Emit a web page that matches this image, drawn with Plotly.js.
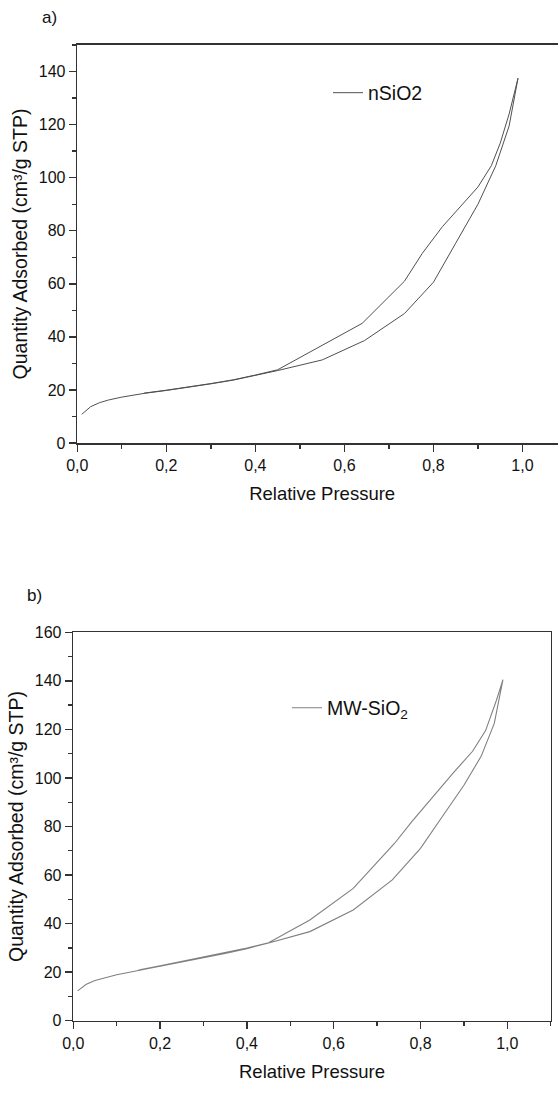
<!DOCTYPE html>
<html>
<head>
<meta charset="utf-8">
<script src="https://cdn.plot.ly/plotly-3.0.1.min.js"></script>
<style>
html, body { margin: 0; padding: 0; overflow: hidden; background: #fff; }
#chart { width: 570px; height: 1106px; }
</style>
</head>
<body>
<div id="chart"></div>
<script>
// ---- Data: (a) nSiO2 isotherm ----
const adsP_a = [0.01, 0.03, 0.05, 0.07, 0.10, 0.15, 0.20, 0.25, 0.30, 0.35, 0.40, 0.45, 0.55, 0.645, 0.735, 0.80, 0.85, 0.90, 0.94, 0.97, 0.99];
const adsQ_a = [10.8, 13.7, 15.2, 16.2, 17.3, 18.7, 19.8, 21.0, 22.3, 23.7, 25.4, 27.3, 31.3, 38.6, 48.8, 60.6, 75.3, 90.0, 104.5, 119.5, 137.5];
const desP_a = [0.99, 0.97, 0.95, 0.93, 0.90, 0.87, 0.82, 0.775, 0.735, 0.64, 0.545, 0.45, 0.40, 0.35, 0.30, 0.25, 0.20, 0.15];
const desQ_a = [137.5, 124.0, 113.0, 104.5, 96.5, 90.8, 81.5, 71.5, 61.0, 45.1, 36.3, 27.6, 25.6, 23.8, 22.4, 21.1, 19.9, 18.8];

// ---- Data: (b) MW-SiO2 isotherm ----
const adsP_b = [0.01, 0.03, 0.05, 0.07, 0.10, 0.15, 0.20, 0.25, 0.30, 0.35, 0.40, 0.45, 0.545, 0.645, 0.735, 0.80, 0.85, 0.90, 0.94, 0.97, 0.99];
const adsQ_b = [12.3, 15.0, 16.6, 17.6, 18.9, 20.7, 22.4, 24.1, 25.9, 27.7, 29.7, 32.0, 36.7, 45.6, 58.0, 71.0, 84.0, 97.0, 109.0, 122.5, 140.5];
const desP_b = [0.99, 0.975, 0.95, 0.92, 0.875, 0.82, 0.78, 0.74, 0.645, 0.545, 0.45, 0.40, 0.35, 0.30, 0.25, 0.20, 0.15];
const desQ_b = [140.5, 132.0, 119.5, 111.0, 102.0, 90.5, 82.0, 73.0, 54.5, 41.5, 32.1, 29.9, 28.0, 26.1, 24.3, 22.6, 20.9];

// ---- Labels ----
const seriesNames = ["nSiO2", "MW-SiO<sub>2</sub>"];
const panelLabels = ["a)", "b)"];
const xTitle = "Relative Pressure";
const yTitle = "Quantity Adsorbed (cm³/g STP)";

const W = 570, H = 1106;
const FONT = "Liberation Sans, Arial, sans-serif";

const traces = [
  {
    x: adsP_a.concat(desP_a), y: adsQ_a.concat(desQ_a),
    xaxis: "x", yaxis: "y", mode: "lines", name: seriesNames[0],
    line: { color: "#505050", width: 1 }, legend: "legend", showlegend: true
  },
  {
    x: adsP_b.concat(desP_b), y: adsQ_b.concat(desQ_b),
    xaxis: "x2", yaxis: "y2", mode: "lines", name: seriesNames[1],
    line: { color: "#808080", width: 1.1 }, legend: "legend2", showlegend: true
  }
];

function axisBase(extra) {
  return Object.assign({
    showline: true, linewidth: 1.6, linecolor: "#333", mirror: true,
    ticks: "outside", ticklen: 7, tickwidth: 1.5, tickcolor: "#333",
    showgrid: false, zeroline: false,
    tickfont: { family: FONT, size: 16, color: "#111" }
  }, extra);
}

const xCommon = (dom, anchor) => axisBase({
  domain: dom, anchor: anchor, range: [0, 1.1], dtick: 0.2, tick0: 0, tickformat: ".1f",
  minor: { ticks: "outside", ticklen: 4, tickwidth: 1.3, tickcolor: "#333", dtick: 0.1 },
  title: { text: xTitle, font: { family: FONT, size: 18.5, color: "#111" }, standoff: 14 }
});
const yCommon = (dom, anchor, maxv) => axisBase({
  domain: dom, anchor: anchor, range: [0, maxv], dtick: 20, tick0: 0,
  minor: { ticks: "outside", ticklen: 4, tickwidth: 1.3, tickcolor: "#333", dtick: 10 },
  title: { text: yTitle, font: { family: FONT, size: 19.5, color: "#111" }, standoff: 6 }
});

const layout = {
  width: W, height: H,
  margin: { l: 0, r: 0, t: 0, b: 0 },
  paper_bgcolor: "#fff", plot_bgcolor: "#fff",
  separators: ", ",
  font: { family: FONT, color: "#222" },
  xaxis: xCommon([77.3 / W, 567 / W], "y"),
  yaxis: yCommon([1 - 443 / H, 1 - 45 / H], "x", 150),
  xaxis2: xCommon([73.3 / W, 550.7 / W], "y2"),
  yaxis2: yCommon([1 - 1020.7 / H, 1 - 632.3 / H], "x2", 160),
  legend: {
    x: 328 / W, y: 1 - 93 / H, xanchor: "left", yanchor: "middle",
    bgcolor: "rgba(0,0,0,0)", borderwidth: 0,
    font: { family: FONT, size: 19.5, color: "#111" }
  },
  legend2: {
    x: 287 / W, y: 1 - 708 / H, xanchor: "left", yanchor: "middle",
    bgcolor: "rgba(0,0,0,0)", borderwidth: 0,
    font: { family: FONT, size: 19.5, color: "#111" }
  },
  annotations: [
    { text: panelLabels[0], xref: "paper", yref: "paper", x: 49 / W, y: 1 - 17 / H,
      xanchor: "center", yanchor: "middle", showarrow: false,
      font: { family: FONT, size: 17, color: "#111" } },
    { text: panelLabels[1], xref: "paper", yref: "paper", x: 34 / W, y: 1 - 595 / H,
      xanchor: "center", yanchor: "middle", showarrow: false,
      font: { family: FONT, size: 17, color: "#111" } }
  ]
};

Plotly.newPlot("chart", traces, layout, { staticPlot: true, displayModeBar: false });
</script>
</body>
</html>
